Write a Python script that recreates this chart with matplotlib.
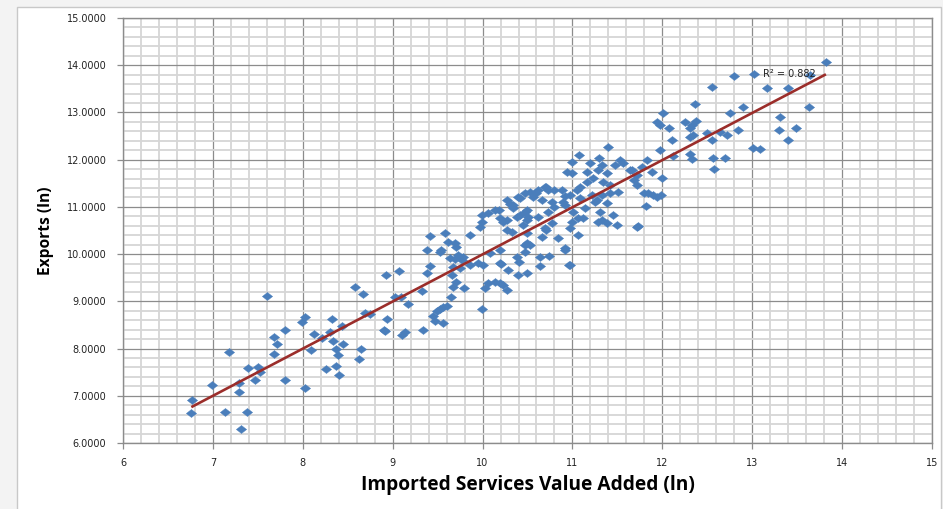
import numpy as np
import matplotlib
matplotlib.use("Agg")
import matplotlib.pyplot as plt
from matplotlib.patches import Rectangle
from matplotlib.path import Path
from matplotlib.ticker import MultipleLocator, FormatStrFormatter

# Imported services value added (ln) vs exports (ln), one value per economy-sector
import_va = [
    6.77, 6.76, 6.99, 7.18, 7.13, 7.31, 7.29, 7.29, 7.38, 7.39, 7.50, 7.47, 7.52, 7.60,
    7.68, 7.68, 7.71, 7.80, 7.80, 7.99, 8.03, 8.02, 8.09, 8.12,
    8.21, 8.26, 8.32, 8.30, 8.34, 8.37, 8.39, 8.37, 8.40, 8.44, 8.45, 8.58, 8.67, 8.69,
    8.75, 8.65, 8.62, 8.93, 9.07, 8.94, 8.92, 8.90, 9.03, 9.09, 9.17, 9.10, 9.14,
    9.38, 9.41, 9.38, 9.34, 9.33, 9.45, 9.47, 9.49, 9.53, 9.56, 9.60, 9.56, 9.65, 9.53,
    9.66, 9.67, 9.70, 9.75, 9.79, 9.64, 9.69, 9.78, 9.86, 9.95, 10.00, 9.99, 10.03, 10.06,
    10.14, 10.19, 10.23, 10.27, 10.20, 10.28, 10.39, 10.40, 10.49, 10.64, 10.64, 10.74,
    10.96, 10.92,
    9.41, 9.58, 9.62, 9.54, 9.71, 9.86, 9.67, 9.73, 9.77, 9.97, 9.99, 10.06, 9.99, 10.14,
    10.18, 10.08, 10.19, 10.19, 10.19, 10.23, 10.27, 10.30, 10.34, 10.38, 10.42, 10.47,
    10.38, 10.47, 10.49, 10.45, 10.51, 10.27, 10.34, 10.42, 10.27, 10.47,
    11.40, 11.07, 10.99, 10.94, 10.99, 11.19, 11.30, 11.33, 11.28, 11.38, 11.47, 11.53,
    11.56, 11.64, 11.72, 11.16, 11.23, 11.34, 11.42, 11.16, 11.08, 11.05, 10.97, 10.88,
    10.80, 10.73, 10.69, 10.62, 10.53, 10.56, 10.66, 10.77, 10.90, 10.92, 11.08, 11.22,
    11.33, 11.42, 11.51, 11.25, 11.38, 11.01, 11.14, 11.06, 10.99, 10.97, 11.31, 11.33,
    11.28, 11.45, 11.50, 11.72, 10.80, 10.73, 10.49, 10.49, 10.62, 10.69, 10.77, 11.06,
    10.84, 10.92, 10.97, 10.47,
    10.39, 10.60, 10.71, 10.92, 10.33, 9.69, 10.33, 10.49, 10.53, 10.66, 10.71, 11.12,
    11.27, 11.38,
    12.55, 12.36, 12.90, 12.75, 12.01, 11.94, 11.97, 12.07, 12.25, 12.33, 12.38, 12.31,
    12.84, 12.11, 12.31, 12.34, 12.50, 12.55, 12.72, 12.64, 11.97, 12.12, 12.31, 12.33,
    12.56, 12.70, 12.57, 11.83, 11.77, 11.88, 12.00, 11.66, 11.69, 11.72, 11.80, 11.84,
    11.90, 11.94, 11.98, 11.82, 11.73,
    13.82, 13.02, 13.16, 13.40, 13.64, 13.63, 13.31, 13.30, 13.49, 13.40, 13.01, 13.09,
    12.80,
]
exports = [
    6.91, 6.63, 7.23, 7.93, 6.65, 6.30, 7.27, 7.08, 6.66, 7.59, 7.60, 7.33, 7.51, 9.11,
    7.88, 8.25, 8.09, 8.40, 7.33, 8.56, 8.67, 7.16, 7.97, 8.31,
    8.22, 7.57, 8.63, 8.35, 8.16, 7.99, 7.86, 7.63, 7.44, 8.48, 8.10, 9.31, 9.16, 8.75,
    8.73, 8.00, 7.78, 9.56, 9.65, 8.63, 8.37, 8.39, 9.09, 9.09, 8.94, 8.29, 8.35,
    10.09, 9.75, 9.60, 8.39, 9.21, 8.68, 8.59, 8.80, 8.84, 8.88, 8.90, 8.54, 9.09, 10.05,
    9.56, 9.31, 9.41, 9.70, 9.28, 9.92, 9.90, 9.94, 9.77, 9.81, 9.77, 8.84, 9.28, 9.38,
    9.41, 9.38, 9.35, 9.24, 9.79, 9.66, 9.56, 9.84, 9.60, 9.74, 9.94, 9.96,
    9.77, 10.09,
    10.38, 10.45, 10.26, 10.09, 10.15, 10.40, 9.73, 9.98, 9.88, 10.58, 10.83, 10.87, 10.68, 10.93,
    10.93, 10.02, 10.09, 9.81, 10.76, 10.68, 10.51, 11.07, 10.97, 10.79, 11.19, 11.29,
    9.94, 10.04, 10.23, 10.62, 10.79, 11.15, 11.04, 10.83, 10.72, 10.89,
    12.27, 12.10, 11.95, 11.74, 11.72, 11.93, 12.04, 11.89, 11.78, 11.72, 11.89, 11.99,
    11.93, 11.78, 11.68, 11.74, 11.61, 11.53, 11.46, 11.53, 11.42, 11.36, 11.25, 11.36,
    11.36, 11.36, 11.42, 11.36, 11.32, 11.21, 11.15, 11.10, 11.10, 11.04, 11.19, 11.25,
    11.25, 11.29, 11.32, 11.10, 11.08, 10.89, 10.97, 10.76, 10.68, 10.55, 10.89, 10.72,
    10.68, 10.83, 10.62, 10.57, 11.00, 10.89, 10.93, 10.72, 10.79, 10.55, 10.66, 10.40,
    10.34, 10.13, 9.77, 10.19,
    11.21, 11.29, 11.42, 11.23, 11.04, 10.23, 10.47, 10.45, 10.19, 10.36, 10.51, 10.76,
    11.15, 10.66,
    13.54, 13.18, 13.12, 12.99, 12.99, 12.80, 12.73, 12.67, 12.80, 12.73, 12.82, 12.67,
    12.63, 12.42, 12.48, 12.52, 12.56, 12.42, 12.52, 12.59, 12.21, 12.08, 12.12, 12.01,
    12.03, 12.03, 11.80, 11.99, 11.85, 11.74, 11.61, 11.78, 11.57, 11.46, 11.29, 11.29,
    11.25, 11.21, 11.25, 11.02, 10.60,
    14.07, 13.81, 13.51, 13.51, 13.79, 13.12, 12.91, 12.63, 12.67, 12.42, 12.25, 12.22,
    13.77,
]
r2_label = "R\u00b2 = 0.882"

x = np.array(import_va)
y = np.array(exports)

W, H, DPI = 943, 509, 100
fig = plt.figure(figsize=(W / DPI, H / DPI), dpi=DPI, facecolor="#f3f3f3")

# white chart panel with a thin frame, kept behind the axes
panel = Rectangle((17 / W, -0.01), (941 - 17) / W, 1 - 7 / H + 0.01,
                  transform=fig.transFigure, facecolor="white",
                  edgecolor="#c8c8c8", linewidth=1.0, zorder=-10)
fig.add_artist(panel)

ax = fig.add_axes([123 / W, 1 - 443 / H, (932 - 123) / W, (443 - 18) / H], zorder=1)
ax.set_facecolor("white")
ax.set_xlim(6, 15)
ax.set_ylim(6, 15)

ax.xaxis.set_major_locator(MultipleLocator(1))
ax.xaxis.set_minor_locator(MultipleLocator(0.2))
ax.yaxis.set_major_locator(MultipleLocator(1))
ax.yaxis.set_minor_locator(MultipleLocator(0.2))
ax.yaxis.set_major_formatter(FormatStrFormatter("%.4f"))

ax.grid(which="minor", color="#d6d6d6", linewidth=1.3, zorder=0)
ax.grid(which="major", color="#8c8c8c", linewidth=0.9, zorder=0.5)
ax.set_axisbelow(True)

for s in ax.spines.values():
    s.set_color("#8c8c8c")
    s.set_linewidth(1.0)

ax.tick_params(which="major", direction="out", length=4, width=0.9, color="#8c8c8c",
               labelsize=7, labelcolor="#222222", pad=7)
ax.tick_params(axis="y", pad=8)
ax.tick_params(which="minor", length=0)

# Diamond markers, slightly wider than tall
diamond = Path([(-1, 0), (0, 0.78), (1, 0), (0, -0.78), (-1, 0)],
               [Path.MOVETO, Path.LINETO, Path.LINETO, Path.LINETO, Path.CLOSEPOLY])
ax.plot(x, y, linestyle="none", marker=diamond, markersize=7.4,
        markerfacecolor="#4a7ebb", markeredgecolor="#4a7ebb", markeredgewidth=0.3, zorder=3)

# Linear trend line over the data range
slope, intercept = np.polyfit(x, y, 1)
xs = np.array([x.min(), x.max()])
ax.plot(xs, slope * xs + intercept, color="#9b2d2a", linewidth=1.9, zorder=4,
        solid_capstyle="butt")

ax.text(13.12, 13.81, r2_label, fontsize=7, color="#222222", va="center", ha="left", zorder=5)

label_font = ["Open Sans", "DejaVu Sans"]
ax.set_xlabel("Imported Services Value Added (ln)", fontsize=13.8, fontweight="bold",
              family=label_font, labelpad=5)
ax.set_ylabel("Exports (ln)", fontsize=11.2, fontweight="bold",
              family=label_font, labelpad=9)

fig.savefig("out.png", dpi=DPI, facecolor=fig.get_facecolor())
